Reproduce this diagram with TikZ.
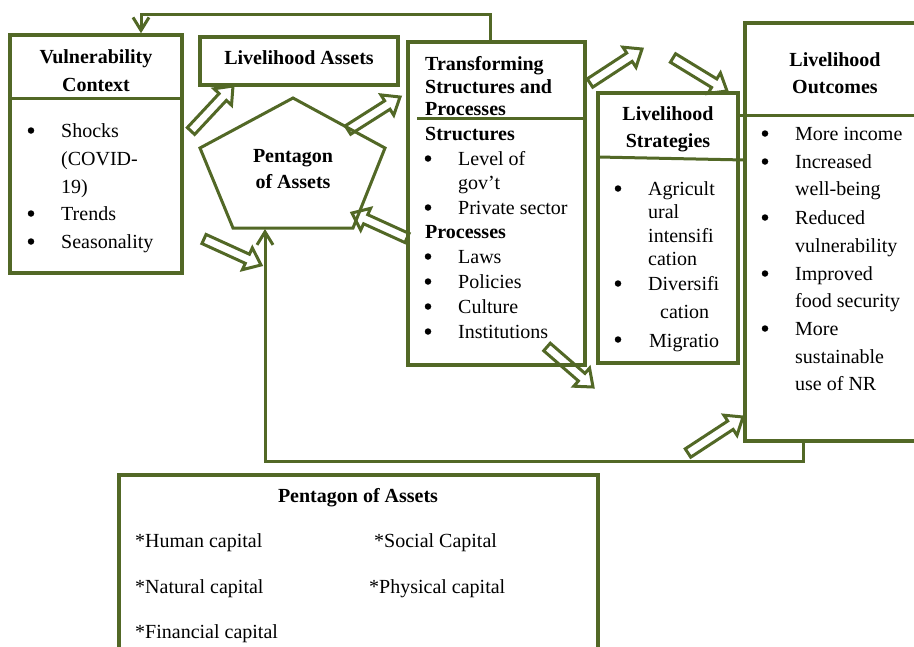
\documentclass[tikz,border=0pt]{standalone}
\usepackage{fontspec}
\setmainfont{Liberation Serif}
\usetikzlibrary{calc,arrows.meta}
\definecolor{olv}{RGB}{82,104,38}
\newcommand\hollowarrow[2]{%
  \draw[blk] ($(#1)!5pt!90:(#2)$) -- ($(#2)!15pt!(#1)!5pt!90:(#2)$) -- ($(#2)!15pt!(#1)!12pt!90:(#2)$) -- (#2)
     -- ($(#2)!15pt!(#1)!12pt!-90:(#2)$) -- ($(#2)!15pt!(#1)!5pt!-90:(#2)$) -- ($(#1)!5pt!-90:(#2)$) -- cycle;}
\begin{document}
\begin{tikzpicture}[x=1pt,y=-1pt,
  box/.style={draw=olv, line width=3.5pt, inner sep=0pt},
  ln/.style={draw=olv, line width=3pt},
  conn/.style={draw=olv, line width=3pt, -{Straight Barb[length=13pt,width=16pt]}},
  blk/.style={draw=olv, line width=3pt, line join=miter},
  txt/.style={anchor=base west, inner sep=0pt, font=\fontsize{20}{24}\selectfont},
  btxt/.style={anchor=base west, inner sep=0pt, font=\fontsize{20}{24}\selectfont\bfseries},
  ttl/.style={anchor=base, inner sep=0pt, font=\fontsize{20}{24}\selectfont\bfseries},
  bul/.style={circle, fill=black, inner sep=0pt, minimum size=6.5pt, yshift=6.5pt},
]
\useasboundingbox (0,0) rectangle (914,646);
\clip (0,0) rectangle (914,646);

% boxes
\node[box, minimum width=172pt, minimum height=238pt] (vc) at (96,154) {};
\node[box, minimum width=198pt, minimum height=48pt] (la) at (299,61) {};
\node[box, minimum width=177pt, minimum height=323pt] (tsp) at (496.5,203.5) {};
\node[box, minimum width=140pt, minimum height=270pt] (ls) at (668,228) {};
\node[box, minimum width=180pt, minimum height=418pt] (lo) at (835,232) {};
\node[box, minimum width=479pt, minimum height=200pt] (pa) at (358.5,575) {};

% dividers
\draw[ln] (10,98) -- (182,98);
\draw[ln] (417,118) -- (585,118);
\draw[ln] (598,157) -- (745,160);
\draw[ln] (740,115) -- (920,115);

% pentagon
\draw[ln, line join=miter] (293,98) -- (385,148) -- (353,228) -- (233,228) -- (200,148) -- cycle;
\coordinate (pentbot) at (265,229);

% feedback connectors
\coordinate (fbA) at (490,14);
\coordinate (fbB) at (141,14);
\draw[conn] (tsp.north -| fbA) -- (fbA) -- (fbB) -- (fbB |- vc.north);
\coordinate (fbC) at (803,461);
\coordinate (fbD) at (265,461);
\draw[conn] (lo.south -| fbC) -- (fbC) -- (fbD) -- (pentbot);

% hollow block arrows
\coordinate (h1s) at (191,131); \coordinate (h1e) at (233,86);
\coordinate (h2s) at (204,239); \coordinate (h2e) at (261,265);
\coordinate (h3s) at (348,130); \coordinate (h3e) at (400,97);
\coordinate (h4s) at (407,238); \coordinate (h4e) at (352,213);
\coordinate (h5s) at (547,347); \coordinate (h5e) at (593,387);
\coordinate (h6s) at (590,83);  \coordinate (h6e) at (642,49);
\coordinate (h7s) at (673,58);  \coordinate (h7e) at (727,91);
\coordinate (h8s) at (688,453); \coordinate (h8e) at (743,417);
\hollowarrow{h1s}{h1e}
\hollowarrow{h2s}{h2e}
\hollowarrow{h3s}{h3e}
\hollowarrow{h4s}{h4e}
\hollowarrow{h5s}{h5e}
\hollowarrow{h6s}{h6e}
\hollowarrow{h7s}{h7e}
\hollowarrow{h8s}{h8e}

% Vulnerability context
\node[ttl] (vct1) at (96,63) {Vulnerability};
\node[ttl] (vct2) at (96,91) {Context};
\node[txt] (v1) at (61,137) {Shocks};
\node[txt] (v2) at (61,165) {(COVID-};
\node[txt] (v3) at (61,193) {19)};
\node[txt] (v4) at (61,220) {Trends};
\node[txt] (v5) at (61,248) {Seasonality};
\foreach \y [count=\i] in {137,220,248} \node[bul] (vb\i) at (31,\y) {};

% Livelihood assets
\node[ttl] (lat) at (299,64) {Livelihood Assets};
\node[ttl] (pt1) at (293,162) {Pentagon};
\node[ttl] (pt2) at (293,188) {of Assets};

% Transforming structures
\node[btxt] (t1) at (425,70) {Transforming};
\node[btxt] (t2) at (425,93) {Structures and};
\node[btxt] (t3) at (425,115) {Processes};
\node[btxt] (t4) at (425,140) {Structures};
\node[txt] (t5) at (458,165) {Level of};
\node[txt] (t6) at (458,189) {gov’t};
\node[txt] (t7) at (458,214) {Private sector};
\node[btxt] (t8) at (425,238) {Processes};
\node[txt] (t9) at (458,263) {Laws};
\node[txt] (t10) at (458,288) {Policies};
\node[txt] (t11) at (458,313) {Culture};
\node[txt] (t12) at (458,338) {Institutions};
\foreach \y [count=\i] in {165,214,263,288,313,338} \node[bul] (tb\i) at (428,\y) {};

% Livelihood strategies
\node[ttl] (ls1) at (668,120) {Livelihood};
\node[ttl] (ls2) at (668,147) {Strategies};
\node[txt] (s1) at (648,195) {Agricult};
\node[txt] (s2) at (648,218) {ural};
\node[txt] (s3) at (648,242) {intensifi};
\node[txt] (s4) at (648,265) {cation};
\node[txt] (s5) at (648,290) {Diversifi};
\node[txt] (s6) at (660,318) {cation};
\node[txt] (s7) at (649,347) {Migratio};
\foreach \y [count=\i] in {195,290,346} \node[bul] (sb\i) at (618,\y) {};

% Livelihood outcomes
\node[ttl] (lo1) at (835,66) {Livelihood};
\node[ttl] (lo2) at (835,93) {Outcomes};
\node[txt] (o1) at (795,140) {More income};
\node[txt] (o2) at (795,168) {Increased};
\node[txt] (o3) at (795,195) {well-being};
\node[txt] (o4) at (795,224) {Reduced};
\node[txt] (o5) at (795,252) {vulnerability};
\node[txt] (o6) at (795,280) {Improved};
\node[txt] (o7) at (795,307) {food security};
\node[txt] (o8) at (795,335) {More};
\node[txt] (o9) at (795,363) {sustainable};
\node[txt] (o10) at (795,390) {use of NR};
\foreach \y [count=\i] in {140,168,224,280,335} \node[bul] (ob\i) at (765,\y) {};

% Pentagon of assets box
\node[ttl] (pat) at (358,502) {Pentagon of Assets};
\node[txt] (p1) at (135,547) {*Human capital};
\node[txt] (p2) at (374,547) {*Social Capital};
\node[txt] (p3) at (135,593) {*Natural capital};
\node[txt] (p4) at (369,593) {*Physical capital};
\node[txt] (p5) at (135,638) {*Financial capital};
\end{tikzpicture}
\end{document}
